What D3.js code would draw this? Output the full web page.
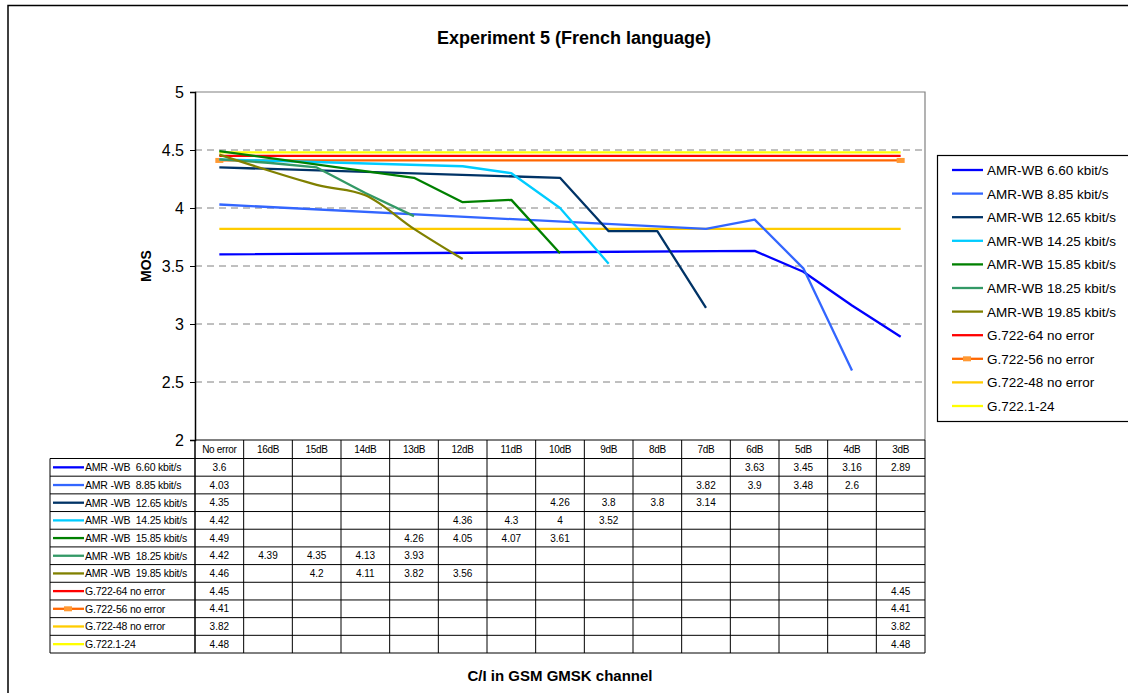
<!DOCTYPE html>
<html><head><meta charset="utf-8">
<script src="https://cdn.jsdelivr.net/npm/d3@7"></script>
<style>
body{margin:0;background:#fff;}
text{font-family:Arial,"Liberation Sans",sans-serif;white-space:pre;}
</style></head>
<body>
<svg id="c" width="1128" height="693"></svg>
<script>
const categories = ["No error","16dB","15dB","14dB","13dB","12dB","11dB","10dB","9dB","8dB","7dB","6dB","5dB","4dB","3dB"];
const seriesNames = ["AMR-WB 6.60 kbit/s","AMR-WB 8.85 kbit/s","AMR-WB 12.65 kbit/s","AMR-WB 14.25 kbit/s","AMR-WB 15.85 kbit/s","AMR-WB 18.25 kbit/s","AMR-WB 19.85 kbit/s","G.722-64 no error","G.722-56 no error","G.722-48 no error","G.722.1-24"];
const tableNames = ["AMR -WB  6.60 kbit/s","AMR -WB  8.85 kbit/s","AMR -WB  12.65 kbit/s","AMR -WB  14.25 kbit/s","AMR -WB  15.85 kbit/s","AMR -WB  18.25 kbit/s","AMR -WB  19.85 kbit/s","G.722-64 no error","G.722-56 no error","G.722-48 no error","G.722.1-24"];
const amr660  = [3.6,null,null,null,null,null,null,null,null,null,null,3.63,3.45,3.16,2.89];
const amr885  = [4.03,null,null,null,null,null,null,null,null,null,3.82,3.9,3.48,2.6,null];
const amr1265 = [4.35,null,null,null,null,null,null,4.26,3.8,3.8,3.14,null,null,null,null];
const amr1425 = [4.42,null,null,null,null,4.36,4.3,4,3.52,null,null,null,null,null,null];
const amr1585 = [4.49,null,null,null,4.26,4.05,4.07,3.61,null,null,null,null,null,null,null];
const amr1825 = [4.42,4.39,4.35,4.13,3.93,null,null,null,null,null,null,null,null,null,null];
const amr1985 = [4.46,null,4.2,4.11,3.82,3.56,null,null,null,null,null,null,null,null,null];
const g72264  = [4.45,null,null,null,null,null,null,null,null,null,null,null,null,null,4.45];
const g72256  = [4.41,null,null,null,null,null,null,null,null,null,null,null,null,null,4.41];
const g72248  = [3.82,null,null,null,null,null,null,null,null,null,null,null,null,null,3.82];
const g7221   = [4.48,null,null,null,null,null,null,null,null,null,null,null,null,null,4.48];
const yTicks = [2,2.5,3,3.5,4,4.5,5];

const seriesValues = [amr660,amr885,amr1265,amr1425,amr1585,amr1825,amr1985,g72264,g72256,g72248,g7221];
const colors = ["#0000FF","#3366FF","#003366","#00CCFF","#008000","#339966","#808000","#FF0000","#FF6600","#FFCC00","#FFFF00"];
const smooth = [false,false,false,false,false,false,true,false,false,false,false];

const svg = d3.select("#c");
const L=195,R=925,T=92,B=440;
const x = d3.scaleBand().domain(categories).range([L,R]);
const y = d3.scaleLinear().domain([2,5]).range([B,T]);

// outer border
svg.append("path").attr("d","M8,700 V5.5 H1140").attr("fill","none").attr("stroke","#000").attr("stroke-width",1.5);

// title
svg.append("text").attr("x",574).attr("y",44).attr("text-anchor","middle").attr("font-size",18).attr("font-weight","bold").text("Experiment 5 (French language)");

// gridlines
svg.append("g").selectAll("line").data(yTicks.filter(d=>d>2 && d<5)).join("line")
  .attr("x1",L).attr("x2",R).attr("y1",d=>y(d)).attr("y2",d=>y(d))
  .attr("stroke","#808080").attr("stroke-width",1).attr("stroke-dasharray","7,5");
svg.append("path").attr("d",`M${L},${T} H${R} V${B}`).attr("fill","none").attr("stroke","#808080").attr("stroke-width",1.2);

// y axis
const yAxis = d3.axisLeft(y).tickValues(yTicks).tickSize(5).tickPadding(6).tickFormat(d3.format("~g"));
const ga = svg.append("g").attr("transform",`translate(${L},0)`).call(yAxis);
ga.select(".domain").attr("stroke","#000").attr("stroke-width",1.5);
ga.selectAll(".tick line").attr("stroke","#000");
ga.selectAll("text").attr("font-size",16).attr("font-family","Arial, 'Liberation Sans', sans-serif").attr("fill","#000");

svg.append("text").attr("transform",`translate(151,${(T+B)/2}) rotate(-90)`).attr("text-anchor","middle")
  .attr("font-size",14).attr("font-weight","bold").text("MOS");

// lines
const cx = c => x(c)+x.bandwidth()/2;
const order = [10,9,8,7,0,1,2,3,5,6,4];
order.forEach(i=>{
  const pts = categories.map((c,j)=>({c,v:seriesValues[i][j]})).filter(p=>p.v!=null);
  const line = d3.line().x(p=>cx(p.c)).y(p=>y(p.v)).curve(smooth[i]?d3.curveCatmullRom.alpha(0.5):d3.curveLinear);
  svg.append("path").attr("d",line(pts)).attr("fill","none").attr("stroke",colors[i]).attr("stroke-width",2.3).attr("stroke-linejoin","round");
  if(i===8){
    svg.append("g").selectAll("rect").data(pts).join("rect")
      .attr("x",p=>cx(p.c)-4).attr("y",p=>y(p.v)-2.5).attr("width",8).attr("height",5).attr("fill","#FF9933");
  }
});

// data table
const hTop=B, hBot=458.5, rowH=(653-hBot)/11, tL=50;
const tbl = svg.append("g");
tbl.selectAll("text.h").data(categories).join("text").attr("class","h")
  .attr("x",c=>cx(c)).attr("y",(hTop+hBot)/2+3.5).attr("text-anchor","middle").attr("font-size",10).attr("letter-spacing",-0.3).text(d=>d);
tbl.append("line").attr("x1",L).attr("x2",R).attr("y1",hTop).attr("y2",hTop).attr("stroke","#000");
d3.range(12).forEach(k=>{
  const yy=hBot+k*rowH;
  tbl.append("line").attr("x1",tL).attr("x2",R).attr("y1",yy).attr("y2",yy).attr("stroke","#000").attr("stroke-width",1);
});
categories.forEach((c,j)=>{
  tbl.append("line").attr("x1",x(c)).attr("x2",x(c)).attr("y1",hTop).attr("y2",653).attr("stroke","#000").attr("stroke-width",j===0?1.5:1);
});
tbl.append("line").attr("x1",R).attr("x2",R).attr("y1",hTop).attr("y2",653).attr("stroke","#000");
tbl.append("line").attr("x1",tL).attr("x2",tL).attr("y1",hBot).attr("y2",653).attr("stroke","#000");
seriesValues.forEach((vals,i)=>{
  const yy=hBot+i*rowH, mid=yy+rowH/2;
  tbl.append("line").attr("x1",53).attr("x2",84).attr("y1",mid).attr("y2",mid).attr("stroke",colors[i]).attr("stroke-width",2.3);
  if(i===8) tbl.append("rect").attr("x",64).attr("y",mid-2.5).attr("width",8).attr("height",5).attr("fill","#FF9933");
  tbl.append("text").attr("x",85).attr("y",mid+4).attr("font-size",10.5).attr("letter-spacing",-0.2).text(tableNames[i]);
  categories.forEach((c,j)=>{
    if(vals[j]!=null) tbl.append("text").attr("x",cx(c)).attr("y",mid+3.5).attr("text-anchor","middle").attr("font-size",10).text(vals[j]);
  });
});

// x title
svg.append("text").attr("x",560).attr("y",681).attr("text-anchor","middle").attr("font-size",15).attr("font-weight","bold").text("C/I in GSM GMSK channel");

// legend
const lg = svg.append("g");
lg.append("rect").attr("x",937.5).attr("y",155.5).attr("width",200).attr("height",266).attr("fill","#fff").attr("stroke","#000").attr("stroke-width",1.2);
seriesNames.forEach((n,i)=>{
  const yy=170+i*23.6;
  lg.append("line").attr("x1",952).attr("x2",983).attr("y1",yy).attr("y2",yy).attr("stroke",colors[i]).attr("stroke-width",2.3);
  if(i===8) lg.append("rect").attr("x",963).attr("y",yy-2.5).attr("width",8).attr("height",5).attr("fill","#FF9933");
  lg.append("text").attr("x",987).attr("y",yy+5).attr("font-size",13.5).text(n);
});
</script>
</body></html>
